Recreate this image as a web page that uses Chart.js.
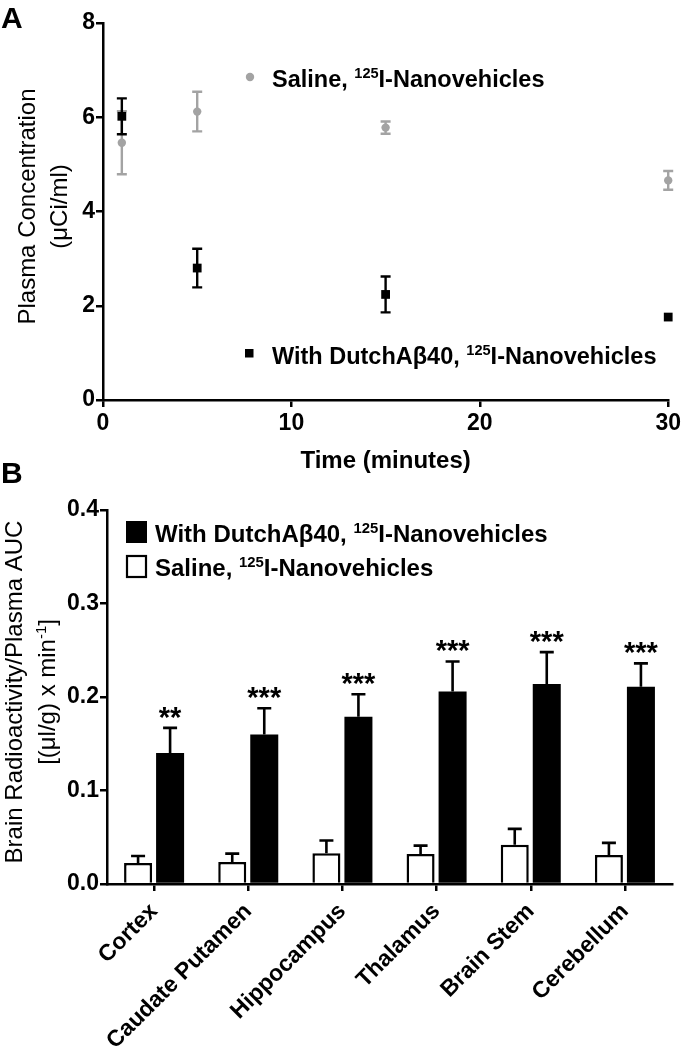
<!DOCTYPE html>
<html>
<head>
<meta charset="utf-8">
<script src="https://cdn.jsdelivr.net/npm/chart.js@4.4.1/dist/chart.umd.min.js"></script>
<style>
  body { margin: 0; background: #fff; }
  #wrap { position: relative; width: 684px; height: 1050px; background: #fff; }
  canvas { position: absolute; left: 0; }
</style>
</head>
<body>
<div id="wrap">
  <canvas id="plasmaChart" width="684" height="480" style="top:0"></canvas>
  <canvas id="brainChart" width="684" height="600" style="top:450px"></canvas>
</div>
<script>
// Panel A - plasma concentration over time
const timesMin = [1, 5, 15, 30];
const salinePlasma = [5.46, 6.12, 5.78, 4.66];
const salinePlasmaErr = [0.67, 0.42, 0.13, 0.2];
const dutchPlasma = [6.02, 2.8, 2.24, 1.76];
const dutchPlasmaErr = [0.38, 0.41, 0.38, 0];

// Panel B - brain uptake per region
const regions = ['Cortex', 'Caudate Putamen', 'Hippocampus', 'Thalamus', 'Brain Stem', 'Cerebellum'];
const salineUptake = [0.0225, 0.0235, 0.033, 0.032, 0.042, 0.031];
const salineUptakeErr = [0.0075, 0.009, 0.0135, 0.009, 0.017, 0.013];
const dutchUptake = [0.140, 0.160, 0.179, 0.206, 0.214, 0.211];
const dutchUptakeErr = [0.027, 0.028, 0.024, 0.032, 0.034, 0.025];
const signif = ['**', '***', '***', '***', '***', '***'];

const salineLabel = [{ t: 'Saline, ' }, { t: '125', sup: true }, { t: 'I-Nanovehicles' }];
const dutchLabel = [{ t: 'With DutchA\u03B240, ' }, { t: '125', sup: true }, { t: 'I-Nanovehicles' }];

const FONT = '"Liberation Sans", Arial, Helvetica, sans-serif';
Chart.defaults.font.family = FONT;
Chart.defaults.color = '#000';

function fontStr(size, weight) {
    return weight + ' ' + size + 'px ' + FONT;
}

// draws text with superscript parts, y is the baseline
function drawRich(ctx, parts, x, y, size, weight, align) {
    ctx.save();
    ctx.textBaseline = 'alphabetic';
    ctx.textAlign = 'left';
    ctx.fillStyle = '#000';
    let w = 0;
    parts.forEach(p => {
        ctx.font = fontStr(p.sup ? size * 0.62 : size, weight);
        w += ctx.measureText(p.t).width;
    });
    let cx = align === 'center' ? x - w / 2 : x;
    parts.forEach(p => {
        const s = p.sup ? size * 0.62 : size;
        ctx.font = fontStr(s, weight);
        ctx.fillText(p.t, cx, p.sup ? y - size * 0.36 : y);
        cx += ctx.measureText(p.t).width;
    });
    ctx.restore();
}

// rotated text, cx = centre of the capitals
function drawRichVertical(ctx, parts, cx, cy, size, weight) {
    ctx.save();
    ctx.translate(cx + 0.358 * size, cy);
    ctx.rotate(-Math.PI / 2);
    drawRich(ctx, parts, 0, 0, size, weight, 'center');
    ctx.restore();
}

function axisStyle() {
    return {
        ticks: { font: { size: 23, weight: 'bold' }, color: '#000', padding: 2 },
        grid: { display: true, drawOnChartArea: false, color: '#000', lineWidth: 2.5, tickLength: 7 },
        border: { color: '#000', width: 2.5 }
    };
}

const plasmaExtras = {
    id: 'plasmaExtras',
    beforeDatasetsDraw(chart) {
        const ctx = chart.ctx;
        const xs = chart.scales.x, ys = chart.scales.y;
        const series = [
            { v: salinePlasma, e: salinePlasmaErr, color: '#a3a3a3' },
            { v: dutchPlasma, e: dutchPlasmaErr, color: '#000' }
        ];
        ctx.save();
        ctx.lineWidth = 2.4;
        series.forEach(s => {
            ctx.strokeStyle = s.color;
            timesMin.forEach((t, i) => {
                if (!s.e[i]) return;
                const px = xs.getPixelForValue(t);
                const top = ys.getPixelForValue(s.v[i] + s.e[i]);
                const bot = ys.getPixelForValue(s.v[i] - s.e[i]);
                ctx.beginPath();
                ctx.moveTo(px, top); ctx.lineTo(px, bot);
                ctx.moveTo(px - 5, top); ctx.lineTo(px + 5, top);
                ctx.moveTo(px - 5, bot); ctx.lineTo(px + 5, bot);
                ctx.stroke();
            });
        });
        ctx.restore();
    },
    afterDraw(chart) {
        const ctx = chart.ctx;
        const a = chart.chartArea;
        ctx.save();
        // panel letter
        ctx.fillStyle = '#000';
        ctx.font = fontStr(30, 'bold');
        ctx.fillText('A', 1, 28);
        // in-plot legend
        ctx.fillStyle = '#a3a3a3';
        ctx.beginPath();
        ctx.arc(a.left + 147, a.top + 54, 4.2, 0, Math.PI * 2);
        ctx.fill();
        ctx.fillStyle = '#000';
        ctx.fillRect(a.left + 146 - 4, a.top + 330 - 4, 8.5, 8.5);
        ctx.restore();
        drawRich(ctx, salineLabel, a.left + 169, a.top + 55 + 8.5, 23.5, 'bold');
        drawRich(ctx, dutchLabel, a.left + 169, a.top + 332 + 8.5, 23.5, 'bold');
        // axis titles
        drawRichVertical(ctx, [{ t: 'Plasma Concentration' }], 26, (a.top + a.bottom) / 2 - 5, 24, 'normal');
        drawRichVertical(ctx, [{ t: '(\u03BCCi/ml)' }], 58, (a.top + a.bottom) / 2 - 5, 24, 'normal');
        drawRich(ctx, [{ t: 'Time (minutes)' }], (a.left + a.right) / 2, 459 + 8.6, 24, 'bold', 'center');
    }
};

const brainExtras = {
    id: 'brainExtras',
    afterDatasetsDraw(chart) {
        const ctx = chart.ctx;
        const ys = chart.scales.y;
        const series = [
            { meta: chart.getDatasetMeta(0), v: salineUptake, e: salineUptakeErr },
            { meta: chart.getDatasetMeta(1), v: dutchUptake, e: dutchUptakeErr }
        ];
        ctx.save();
        ctx.strokeStyle = '#000';
        ctx.lineWidth = 2.6;
        series.forEach(s => {
            s.meta.data.forEach((bar, i) => {
                const top = ys.getPixelForValue(s.v[i]);
                const cap = ys.getPixelForValue(s.v[i] + s.e[i]);
                ctx.beginPath();
                ctx.moveTo(bar.x, top); ctx.lineTo(bar.x, cap);
                ctx.moveTo(bar.x - 7, cap); ctx.lineTo(bar.x + 7, cap);
                ctx.stroke();
            });
        });
        // significance stars
        ctx.fillStyle = '#000';
        ctx.font = fontStr(29, 'bold');
        ctx.textAlign = 'center';
        ctx.textBaseline = 'alphabetic';
        series[1].meta.data.forEach((bar, i) => {
            const cap = ys.getPixelForValue(dutchUptake[i] + dutchUptakeErr[i]);
            ctx.fillText(signif[i], bar.x, cap - 1);
        });
        ctx.restore();
    },
    afterDraw(chart) {
        const ctx = chart.ctx;
        const a = chart.chartArea;
        ctx.save();
        ctx.fillStyle = '#000';
        ctx.font = fontStr(30, 'bold');
        ctx.fillText('B', 1, 33);
        // legend boxes
        ctx.fillRect(a.left + 19, a.top + 11, 21, 22);
        ctx.strokeStyle = '#000';
        ctx.lineWidth = 2.2;
        ctx.strokeRect(a.left + 20, a.top + 46, 19, 21);
        ctx.restore();
        drawRich(ctx, dutchLabel, a.left + 48, a.top + 23 + 8.5, 24, 'bold');
        drawRich(ctx, salineLabel, a.left + 48, a.top + 57 + 8.5, 24, 'bold');
        // y title
        const cy = (a.top + a.bottom) / 2 - 5;
        drawRichVertical(ctx, [{ t: 'Brain Radioactivity/Plasma AUC' }], 13, cy, 24, 'normal');
        drawRichVertical(ctx, [{ t: '[(\u03BCl/g) x min' }, { t: '-1', sup: true }, { t: ']' }], 46, cy, 24, 'normal');
    }
};

const ax = axisStyle();
const ay = axisStyle();
new Chart(document.getElementById('plasmaChart'), {
    type: 'scatter',
    data: {
        datasets: [
            {
                label: 'Saline',
                data: timesMin.map((t, i) => ({ x: t, y: salinePlasma[i] })),
                pointStyle: 'circle',
                pointRadius: 4.2,
                backgroundColor: '#a3a3a3',
                borderWidth: 0,
                clip: false
            },
            {
                label: 'With DutchAβ40',
                data: timesMin.map((t, i) => ({ x: t, y: dutchPlasma[i] })),
                pointStyle: 'rect',
                pointRadius: 6.2,
                backgroundColor: '#000',
                borderWidth: 0,
                clip: false
            }
        ]
    },
    options: {
        responsive: false,
        animation: false,
        layout: { padding: { top: 23, right: 14, left: 0, bottom: 0 } },
        plugins: { legend: { display: false }, tooltip: { enabled: false } },
        scales: {
            x: {
                type: 'linear', min: 0, max: 30,
                ticks: Object.assign({}, ax.ticks, { stepSize: 10, padding: 3 }),
                grid: ax.grid, border: ax.border,
                afterFit: s => { s.height = 80; }
            },
            y: {
                min: 0, max: 8,
                ticks: Object.assign({}, ay.ticks, { stepSize: 2, padding: 1 }),
                grid: ay.grid, border: ay.border,
                afterFit: s => { s.width = 103; }
            }
        }
    },
    plugins: [plasmaExtras]
});

const bx = axisStyle();
const by = axisStyle();
new Chart(document.getElementById('brainChart'), {
    type: 'bar',
    data: {
        labels: regions,
        datasets: [
            {
                label: 'Saline',
                data: salineUptake,
                backgroundColor: '#fff',
                borderColor: '#000',
                borderWidth: 2.5
            },
            {
                label: 'With DutchAβ40',
                data: dutchUptake,
                backgroundColor: '#000',
                borderWidth: 0
            }
        ]
    },
    options: {
        responsive: false,
        animation: false,
        layout: { padding: { top: 60, right: 12, left: 0, bottom: 0 } },
        datasets: { bar: { categoryPercentage: 0.68, barPercentage: 0.875 } },
        plugins: { legend: { display: false }, tooltip: { enabled: false } },
        scales: {
            x: {
                ticks: Object.assign({}, bx.ticks, { minRotation: 45, maxRotation: 45, autoSkip: false, padding: 7 }),
                grid: Object.assign({}, bx.grid, { offset: false }),
                border: bx.border,
                afterFit: s => { s.height = 166; }
            },
            y: {
                min: 0, max: 0.4,
                ticks: Object.assign({}, by.ticks, { stepSize: 0.1, padding: 1, callback: v => v.toFixed(1) }),
                grid: by.grid, border: by.border,
                afterFit: s => { s.width = 107; }
            }
        }
    },
    plugins: [brainExtras]
});
</script>
</body>
</html>
